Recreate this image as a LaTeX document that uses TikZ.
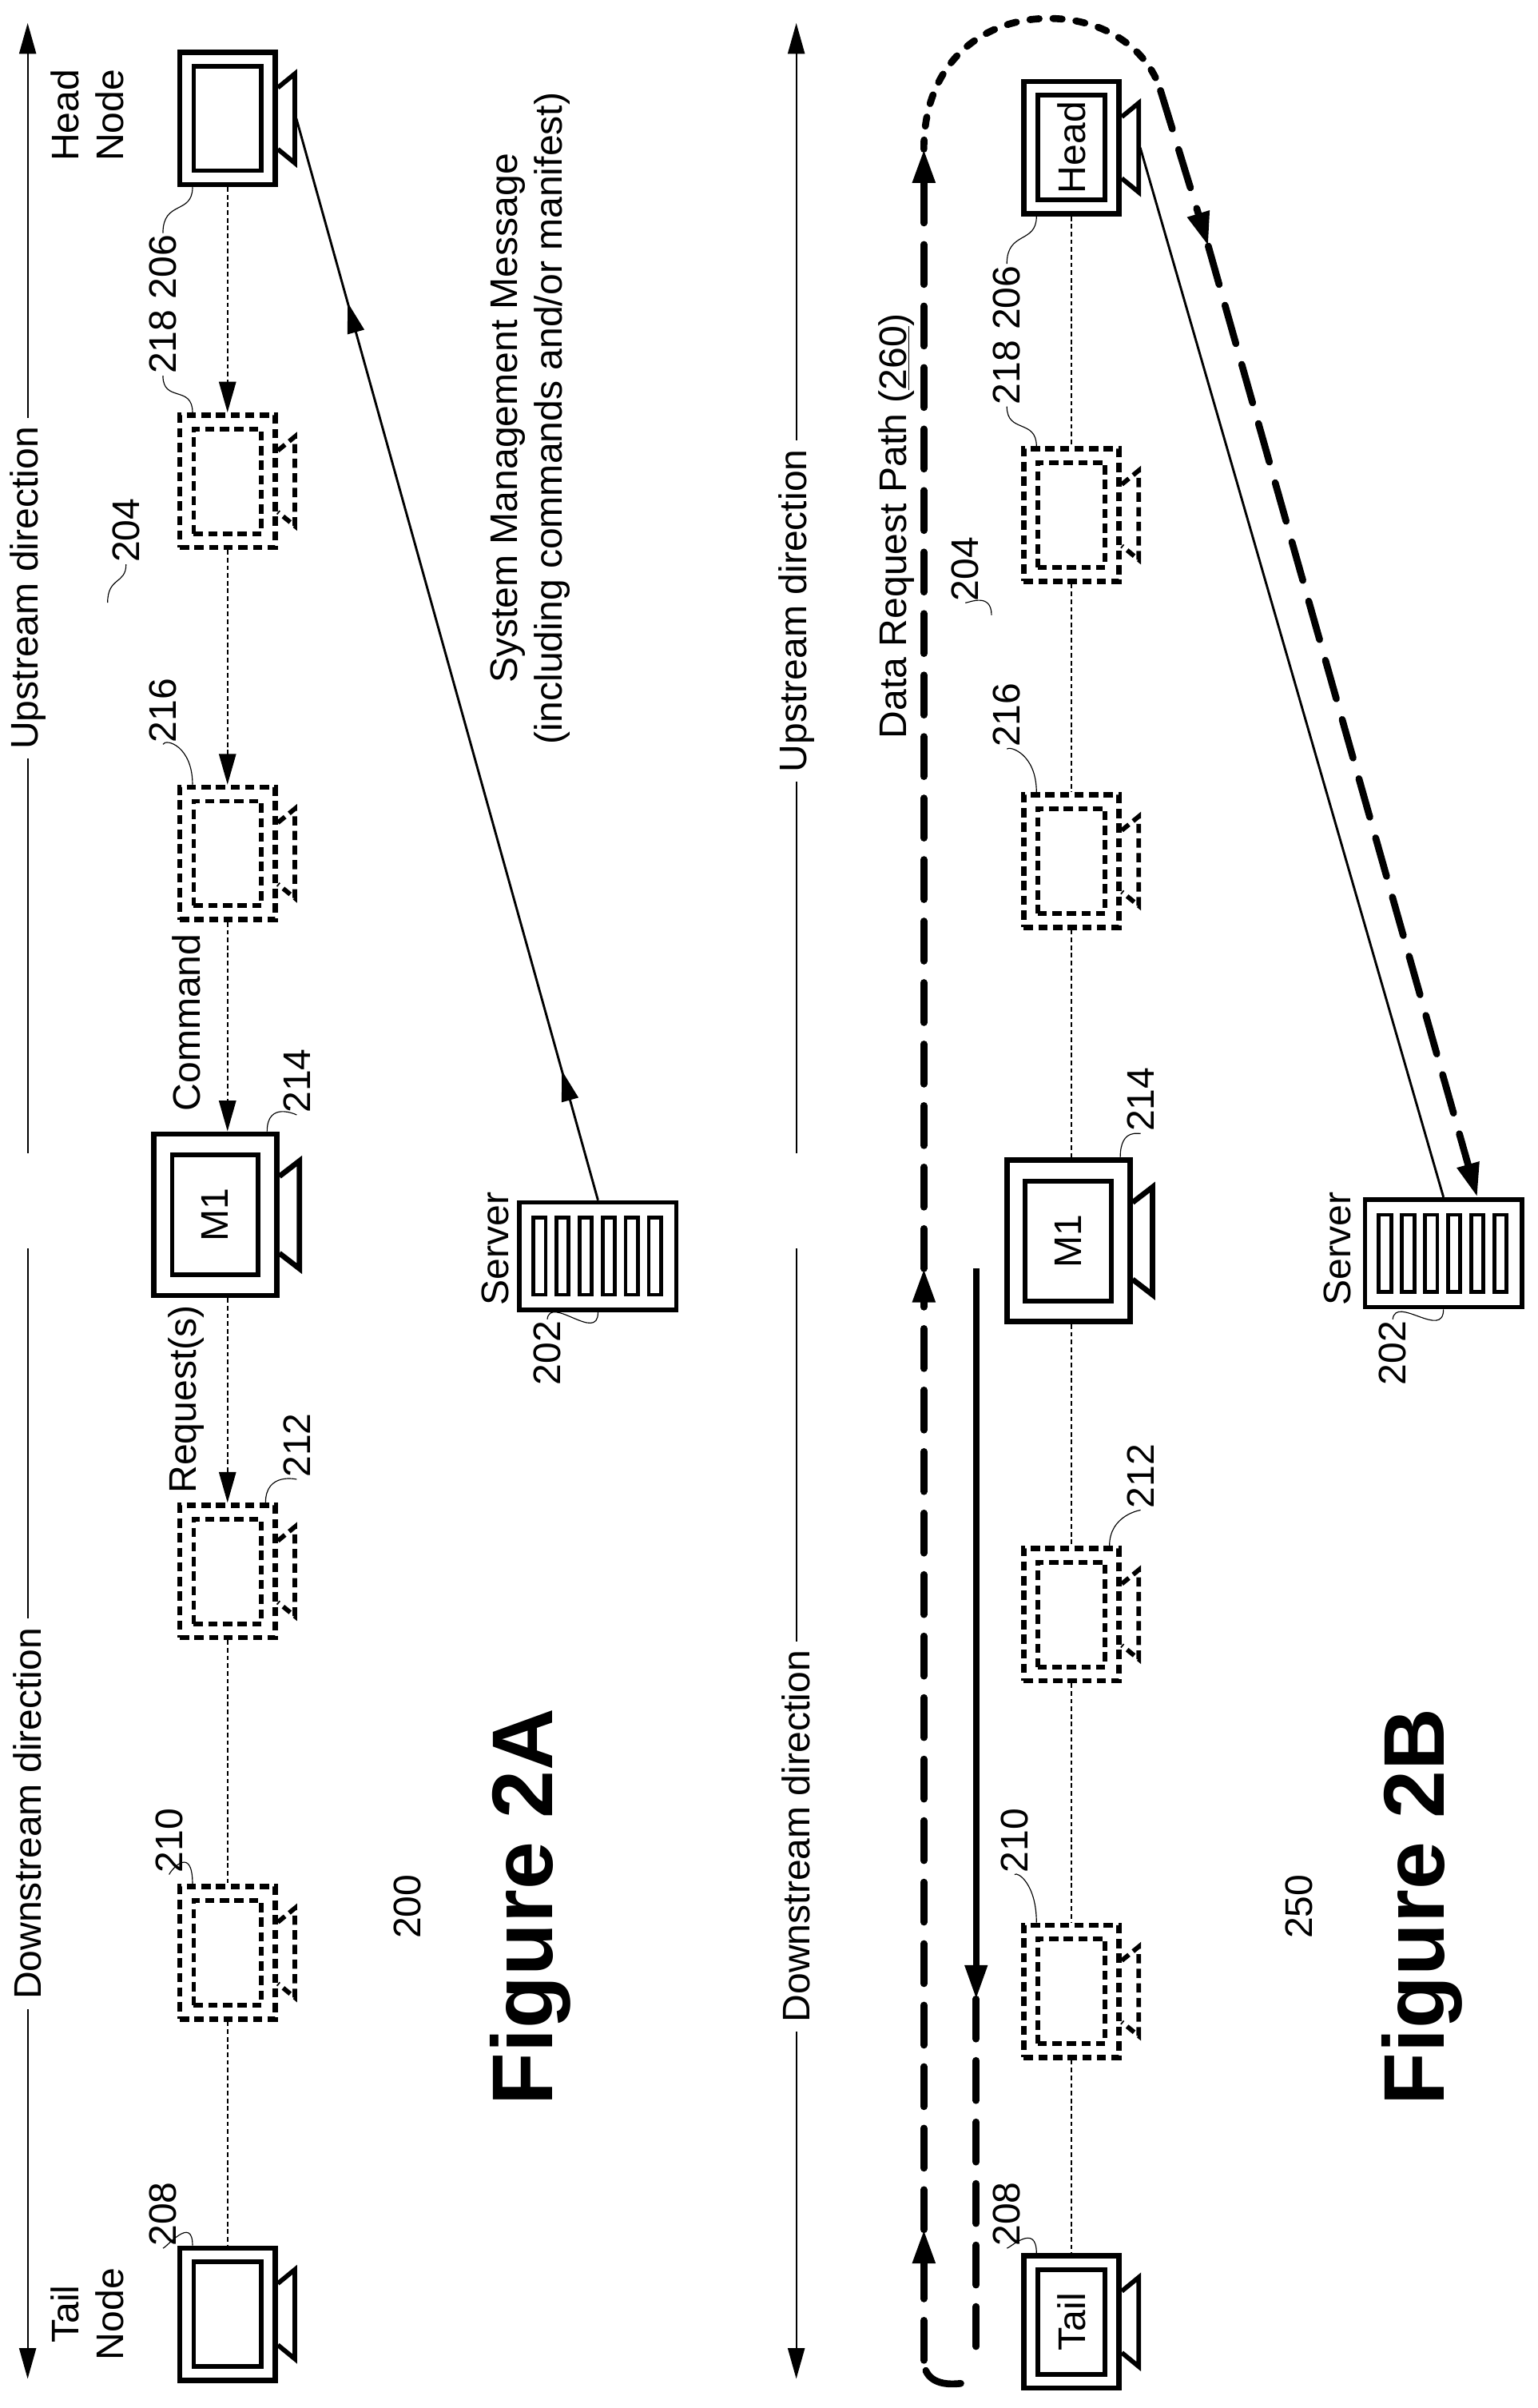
\documentclass[tikz,border=0pt]{standalone}
\usepackage{fontspec}
\setmainfont{Liberation Sans}
\usetikzlibrary{arrows.meta,decorations.markings}
\begin{document}
\begin{tikzpicture}[x=1pt,y=-1pt,
 lbl/.style={font=\fontsize{25}{29}\selectfont, rotate=90, inner sep=1pt, align=center},
 outer/.style={draw, line width=3.5pt, minimum width=62pt, minimum height=86pt, inner sep=0pt},
 inner/.style={draw, line width=3pt, minimum width=44pt, minimum height=68pt, inner sep=0pt},
 bouter/.style={draw, line width=3.5pt, minimum width=80pt, minimum height=105pt, inner sep=0pt},
 binner/.style={draw, line width=3pt, minimum width=56pt, minimum height=78pt, inner sep=0pt},
 dsh/.style={dash pattern=on 6pt off 3.5pt},
 solid0/.style={},
 dotline/.style={line width=1.3pt, dash pattern=on 3pt off 2pt},
 tip/.style={-{Triangle[length=20pt,width=11pt]}},
 leader/.style={line width=0.6pt},
 axis/.style={line width=1pt},
 bigdash/.style={line width=4.5pt, dash pattern=on 26pt off 14pt, line cap=round},
 bigdot/.style={line width=4.5pt, dash pattern=on 6pt off 9pt, line cap=round},
 bigtip/.style={-{Triangle[length=22pt,width=14pt]}},
 server/.style={draw, line width=3pt, minimum width=102pt, minimum height=70pt, inner sep=0pt},
 fig/.style={font=\fontsize{56}{60}\selectfont\bfseries, rotate=90}
]
\useasboundingbox (0,0) rectangle (1000,1566);

\newcommand\cam[5]{%
 \node[outer,#4] (#1) at (#2,#3) {};
 \node[inner,#4] (#1i) at (#1) {};
 \node[lbl] (#1t) at (#1) {#5};
 \draw[line width=3pt,#4] ([shift={(0,-20)}]#1.east) -- ++(11,-9) -- ++(0,58) -- ++(-11,-9);
}
\newcommand\bigcam[5]{%
 \node[bouter,#4] (#1) at (#2,#3) {};
 \node[binner,#4] (#1i) at (#1) {};
 \node[lbl] (#1t) at (#1) {#5};
 \draw[line width=3.5pt,#4] ([shift={(0,-25)}]#1.east) -- ++(13,-10) -- ++(0,70) -- ++(-13,-10);
}
\newcommand\srv[3]{%
 \node[server] (#1) at (#2,#3) {};
 \foreach \sx in {-38,-23,-8,7,22,37}
   \draw[line width=2.5pt] ([shift={(\sx-4,-25)}]#1.center) rectangle ++(8,50);
}

% ================= Figure 2A =================
\coordinate (a1) at (18,750);
\coordinate (a2) at (18,15);
\coordinate (a3) at (18,812);
\coordinate (a4) at (18,1547);
\draw[axis,tip] (a1) -- node[lbl,fill=white,inner sep=6pt] {Upstream direction} (a2);
\draw[axis,tip] (a3) -- node[lbl,fill=white,inner sep=6pt] {Downstream direction} (a4);
\node[lbl] (l204a) at (82,345) {204};
\draw[leader] (70,392) .. controls (70,375) and (82,380) .. (l204a.west);

\cam{h1}{148}{77}{solid0}{}
\cam{c218}{148}{313}{dsh}{}
\cam{c216}{148}{555}{dsh}{}
\bigcam{m1}{140}{790}{solid0}{M1}
\cam{c212}{148}{1022}{dsh}{}
\cam{c210}{148}{1270}{dsh}{}
\cam{t1}{148}{1505}{solid0}{}

\draw[dotline,tip] (h1.south) -- (c218.north);
\draw[dotline,tip] (c218.south) -- (c216.north);
\draw[dotline,tip] (c216.south) -- (m1.north-|c216.south);
\draw[dotline,tip] (m1.south-|c212.north) -- (c212.north);
\draw[dotline] (c212.south) -- (c210.north);
\draw[dotline] (c210.south) -- (t1.north);

\node[lbl] (hn1) at (57,75) {Head\\Node};
\node[lbl] (tn1) at (57,1505) {Tail\\Node};
\node[lbl] (cmd) at (121,665) {Command};
\node[lbl] (req) at (121,910) {Request(s)};

\node[lbl] (l218a) at (106,198) {218 206};
\draw[leader] ([xshift=10]h1.south west) .. controls +(0,18) and (106,130) .. (l218a.east);
\draw[leader] ([xshift=10]c218.north west) .. controls +(0,-18) and (106,262) .. (l218a.west);
\node[lbl] (l216a) at (106,462) {216};
\draw[leader] ([xshift=10]c216.north west) .. controls +(0,-25) and (108,480) .. (l216a.west);
\node[lbl] (l214a) at (193,703) {214};
\draw[leader] ([xshift=-8]m1.north east) .. controls +(0,-20) and (193,725) .. (l214a.west);
\node[lbl] (l212a) at (193,940) {212};
\draw[leader] ([xshift=-8]c212.north east) .. controls +(0,-20) and (193,962) .. (l212a.west);
\node[lbl] (l210a) at (110,1197) {210};
\draw[leader] ([xshift=10]c210.north west) .. controls +(0,-25) and (112,1215) .. (l210a.west);
\node[lbl] (l208a) at (106,1440) {208};
\draw[leader] ([xshift=10]t1.north west) .. controls +(0,-20) and (108,1462) .. (l208a.west);

\srv{s1}{389}{817}
\node[lbl] (sv1) at (322,812) {Server};
\node[lbl] (l202a) at (356,880) {202};
\draw[leader] (s1.south) .. controls +(0,20) and (358,842) .. (l202a.east);
\coordinate (hl1) at ([xshift=12]h1.east);
\draw[line width=1.5pt, postaction={decorate}, decoration={markings,
  mark=at position 0.12 with {\arrow{Triangle[length=20pt,width=11pt]}},
  mark=at position 0.83 with {\arrow{Triangle[length=20pt,width=11pt]}}}]
  (s1.north) -- (hl1);
\node[lbl] (smm) at (345,272) {System Management Message\\(including commands and/or manifest)};

\node[lbl] (n200) at (265,1240) {200};
\node[fig] (f2a) at (345,1240) {Figure 2A};

% ================= Figure 2B =================
\coordinate (b1) at (518,750);
\coordinate (b2) at (518,15);
\coordinate (b3) at (518,812);
\coordinate (b4) at (518,1547);
\draw[axis,tip] (b1) -- node[lbl,fill=white,inner sep=6pt,pos=0.48] {Upstream direction} (b2);
\draw[axis,tip] (b3) -- node[lbl,fill=white,inner sep=6pt,pos=0.52] {Downstream direction} (b4);

\cam{h2}{697}{96}{solid0}{Head}
\cam{d218}{697}{335}{dsh}{}
\cam{d216}{697}{560}{dsh}{}
\bigcam{m2}{695}{807}{solid0}{M1}
\cam{d212}{697}{1050}{dsh}{}
\cam{d210}{697}{1295}{dsh}{}
\cam{t2}{697}{1510}{solid0}{Tail}

\draw[dotline] (h2.south) -- (d218.north);
\draw[dotline] (d218.south) -- (d216.north);
\draw[dotline] (d216.south) -- (m2.north-|d216.south);
\draw[dotline] (m2.south-|d212.north) -- (d212.north);
\draw[dotline] (d212.south) -- (d210.north);
\draw[dotline] (d210.south) -- (t2.north);

\node[lbl] (l218b) at (655,218) {218 206};
\draw[leader] ([xshift=10]h2.south west) .. controls +(0,18) and (655,150) .. (l218b.east);
\draw[leader] ([xshift=10]d218.north west) .. controls +(0,-18) and (655,282) .. (l218b.west);
\node[lbl] (l216b) at (655,465) {216};
\draw[leader] ([xshift=10]d216.north west) .. controls +(0,-25) and (657,485) .. (l216b.west);
\node[lbl] (l214b) at (742,715) {214};
\draw[leader] ([xshift=-8]m2.north east) .. controls +(0,-20) and (742,738) .. (l214b.west);
\node[lbl] (l212b) at (742,960) {212};
\draw[leader] ([xshift=-8]d212.north east) .. controls +(0,-20) and (742,982) .. (l212b.west);
\node[lbl] (l210b) at (660,1197) {210};
\draw[leader] ([xshift=10]d210.north west) .. controls +(0,-25) and (662,1217) .. (l210b.west);
\node[lbl] (l208b) at (655,1440) {208};
\draw[leader] ([xshift=10]t2.north west) .. controls +(0,-20) and (657,1462) .. (l208b.west);

\srv{s2}{939}{815}
\node[lbl] (sv2) at (870,812) {Server};
\node[lbl] (l202b) at (906,880) {202};
\draw[leader] (s2.south) .. controls +(0,20) and (908,842) .. (l202b.east);
\coordinate (hl2) at ([xshift=12]h2.east);
\draw[line width=1.5pt] (hl2) -- (s2.north);

% data request path
\coordinate (p0) at (625,1550);
\coordinate (p1) at (601,1535);
\coordinate (p2) at (601,1450);
\coordinate (p3) at (601,825);
\coordinate (p4) at (601,97);
\coordinate (p5) at (755,59);
\coordinate (p6) at (786,160);
\coordinate (p7) at ([xshift=22]s2.north);
\draw[bigdash] (p0) .. controls (608,1552) and (601,1545) .. (p1);
\draw[bigdash,bigtip] (p1) -- (p2);
\draw[bigdash,bigtip] (p2) -- (p3);
\draw[bigdash,bigtip] (p3) -- (p4);
\draw[bigdot] (p4) .. controls (601,40) and (640,12) .. (682,12) .. controls (722,12) and (748,35) .. (p5);
\draw[bigdash,bigtip] (p5) -- (p6);
\draw[bigdash,bigtip] (p6) -- (p7);
\coordinate (q0) at (635,825);
\coordinate (q1) at (635,1300);
\coordinate (q2) at (635,1537);
\draw[line width=4pt,bigtip] (q0) -- (q1);
\draw[bigdash] (q1) -- (q2);

\node[lbl] (drp) at (583,342) {Data Request Path (\underline{260})};
\node[lbl] (l204b) at (628,370) {204};
\draw[leader] (645,400) .. controls (645,385) and (630,392) .. (l204b.west);

\node[lbl] (n250) at (845,1240) {250};
\node[fig] (f2b) at (925,1240) {Figure 2B};
\end{tikzpicture}
\end{document}
